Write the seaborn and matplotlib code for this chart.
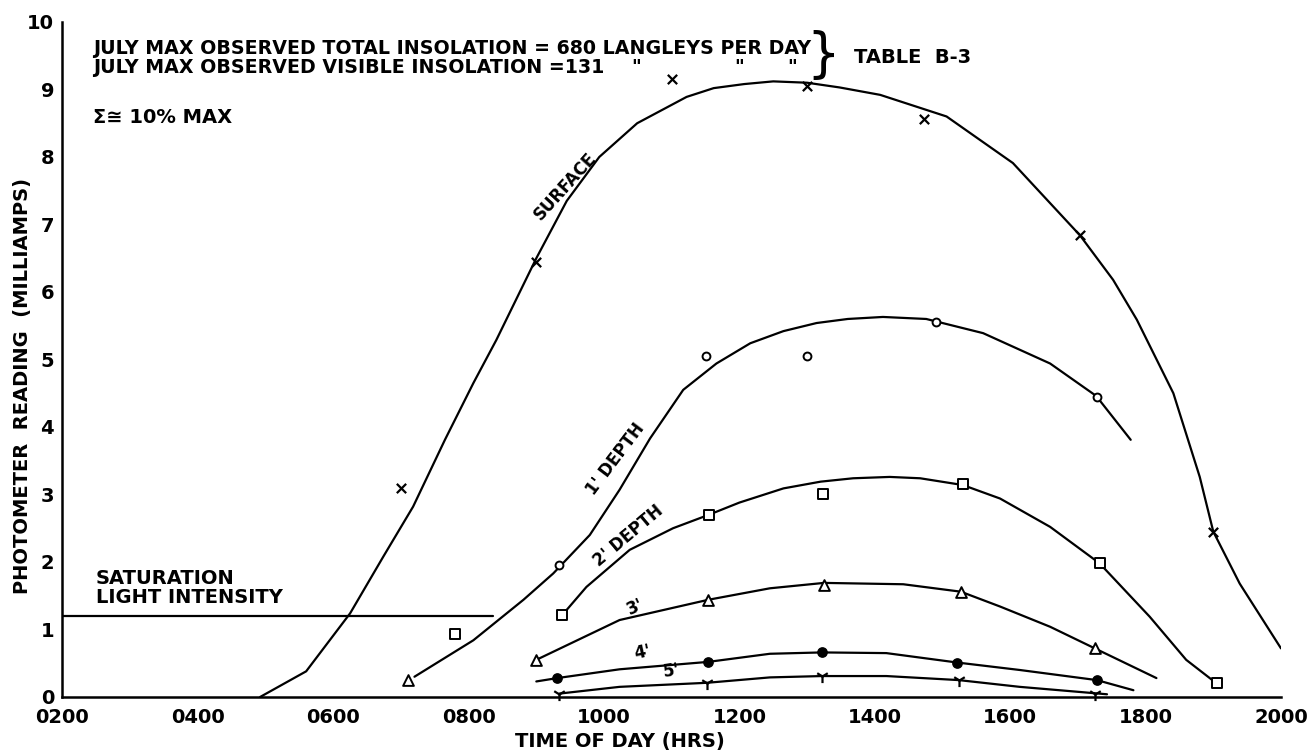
import matplotlib
matplotlib.use("Agg")
import matplotlib.pyplot as plt
import seaborn as sns

sns.set_theme(style="white")
plt.rcParams['font.family'] = ['DejaVu Sans']
plt.rcParams['font.weight'] = 'bold'
plt.rcParams['text.color'] = 'black'
plt.rcParams['axes.labelcolor'] = 'black'
plt.rcParams['axes.labelweight'] = 'bold'

# --- dados (hora decimal, miliamperes) ---
# superficie
surf_hr = [7.0, 9.0, 11.0, 13.0, 14.72, 17.03, 19.0]
surf_val = [3.1, 6.45, 9.15, 9.05, 8.56, 6.84, 2.45]
surf_curve_hr = [4.92, 5.6, 6.25, 6.74, 7.18, 7.65, 8.07, 8.41, 9.0, 9.45, 9.93, 10.49, 11.22, 11.62,
                 12.07, 12.5, 13.0, 13.48, 14.08, 15.06, 16.04, 17.03, 17.52, 17.87, 18.41, 18.8,
                 19.0, 19.39, 20.0]
surf_curve_val = [0.0, 0.38, 1.24, 2.08, 2.82, 3.81, 4.65, 5.29, 6.5, 7.35, 8.0, 8.5, 8.89, 9.02,
                  9.08, 9.12, 9.1, 9.03, 8.92, 8.6, 7.91, 6.84, 6.18, 5.59, 4.5, 3.26,
                  2.45, 1.68, 0.72]

# 1' de profundidade
d1_hr = [9.33, 11.5, 13.0, 14.9, 17.28]
d1_val = [1.95, 5.05, 5.05, 5.55, 4.45]
d1_curve_hr = [7.2, 8.07, 8.81, 9.25, 9.79, 10.23, 10.68, 11.17, 11.66, 12.16, 12.65, 13.14, 13.6,
               14.12, 14.76, 15.6, 16.59, 17.27, 17.78]
d1_curve_val = [0.3, 0.84, 1.44, 1.83, 2.4, 3.07, 3.83, 4.55, 4.94, 5.24, 5.42, 5.54, 5.6,
                5.63, 5.6, 5.39, 4.94, 4.46, 3.81]

# 2' de profundidade
d2_hr = [7.8, 9.38, 11.55, 13.24, 15.3, 17.32, 19.05]
d2_val = [0.94, 1.21, 2.70, 3.0, 3.15, 1.98, 0.2]
d2_curve_hr = [9.38, 9.74, 10.38, 11.02, 11.55, 12.0, 12.65, 13.2, 13.68, 14.22, 14.67, 15.3,
               15.85, 16.59, 17.32, 18.06, 18.6, 19.05]
d2_curve_val = [1.21, 1.63, 2.18, 2.5, 2.70, 2.88, 3.09, 3.19, 3.24, 3.26, 3.24, 3.14,
                2.94, 2.52, 1.98, 1.19, 0.55, 0.2]

# 3' de profundidade
d3_hr = [7.1, 9.0, 11.54, 13.25, 15.27, 17.25]
d3_val = [0.25, 0.55, 1.44, 1.66, 1.56, 0.72]
d3_curve_hr = [9.0, 10.23, 11.54, 12.45, 13.25, 14.42, 15.27, 15.85, 16.59, 17.25, 18.16]
d3_curve_val = [0.55, 1.14, 1.44, 1.61, 1.69, 1.67, 1.56, 1.34, 1.04, 0.72, 0.28]

# 4' de profundidade
d4_hr = [9.31, 11.54, 13.22, 15.22, 17.28]
d4_val = [0.28, 0.52, 0.66, 0.51, 0.25]
d4_curve_hr = [9.0, 9.31, 10.23, 11.54, 12.45, 13.22, 14.17, 15.22, 16.14, 17.28, 17.82]
d4_curve_val = [0.23, 0.28, 0.41, 0.52, 0.64, 0.66, 0.65, 0.51, 0.4, 0.25, 0.1]

# 5' de profundidade
d5_hr = [9.34, 11.52, 13.22, 15.24, 17.25]
d5_val = [0.05, 0.21, 0.31, 0.25, 0.05]
d5_curve_hr = [9.34, 10.23, 11.52, 12.45, 13.22, 14.17, 15.24, 16.14, 17.43]
d5_curve_val = [0.05, 0.15, 0.21, 0.29, 0.31, 0.31, 0.25, 0.15, 0.04]

saturacao = 1.2
saturacao_fim = 8.36

time_ticks = [2, 4, 6, 8, 10, 12, 14, 16, 18, 20]
time_labels = ["0200", "0400", "0600", "0800", "1000", "1200", "1400", "1600", "1800", "2000"]
y_ticks = [0, 1, 2, 3, 4, 5, 6, 7, 8, 9, 10]

#%% Grafico
fig = plt.figure(figsize=(13.09, 7.5), dpi=100)
ax = fig.add_axes([0.0477, 0.0707, 0.9309, 0.9])

lw = 1.6
for cx, cy in [(surf_curve_hr, surf_curve_val), (d1_curve_hr, d1_curve_val),
               (d2_curve_hr, d2_curve_val), (d3_curve_hr, d3_curve_val),
               (d4_curve_hr, d4_curve_val), (d5_curve_hr, d5_curve_val)]:
    sns.lineplot(x=cx, y=cy, sort=False, estimator=None, color='black', linewidth=lw, ax=ax)

# linha de saturacao
sns.lineplot(x=[2, saturacao_fim], y=[saturacao, saturacao], color='black', linewidth=lw, ax=ax)

# marcadores
sns.scatterplot(x=surf_hr, y=surf_val, marker='x', s=45, color='black', linewidth=1.6, zorder=5, ax=ax)
sns.scatterplot(x=d1_hr, y=d1_val, marker='o', s=32, facecolor='white', edgecolor='black',
                linewidth=1.4, zorder=5, ax=ax)
sns.scatterplot(x=d2_hr, y=d2_val, marker='s', s=55, facecolor='white', edgecolor='black',
                linewidth=1.4, zorder=5, ax=ax)
sns.scatterplot(x=d3_hr, y=d3_val, marker='^', s=60, facecolor='white', edgecolor='black',
                linewidth=1.4, zorder=5, ax=ax)
sns.scatterplot(x=d4_hr, y=d4_val, marker='o', s=45, facecolor='black', edgecolor='black',
                linewidth=1, zorder=5, ax=ax)
sns.scatterplot(x=d5_hr, y=d5_val, marker='1', s=90, color='black', linewidth=1.6, zorder=5,
                ax=ax, clip_on=False)

# rotulos das curvas
ax.text(9.42, 7.56, 'SURFACE', rotation=48, fontsize=12, ha='center', va='center')
ax.text(10.17, 3.53, "1' DEPTH", rotation=53, fontsize=12, ha='center', va='center')
ax.text(10.36, 2.38, "2' DEPTH", rotation=40, fontsize=12, ha='center', va='center')
ax.text(10.46, 1.33, "3'", rotation=25, fontsize=12, ha='center', va='center')
ax.text(10.56, 0.66, "4'", rotation=12, fontsize=12, ha='center', va='center')
ax.text(11.0, 0.38, "5'", rotation=8, fontsize=12, ha='center', va='center')

ax.text(2.49, 1.76, 'SATURATION', fontsize=14, va='center')
ax.text(2.49, 1.48, 'LIGHT INTENSITY', fontsize=14, va='center')

# cabecalho
ax.text(2.45, 9.6, 'JULY MAX OBSERVED TOTAL INSOLATION = 680 LANGLEYS PER DAY', fontsize=13.7, va='center')
ax.text(2.45, 9.33, 'JULY MAX OBSERVED VISIBLE INSOLATION =131', fontsize=13.7, va='center')
for xq in [10.48, 12.0, 12.78]:
    ax.text(xq, 9.33, '"', fontsize=13.7, va='center', ha='center')
ax.text(13.24, 9.5, '}', fontsize=38, va='center', ha='center', fontweight='normal')
ax.text(13.69, 9.47, 'TABLE  B-3', fontsize=14, va='center')
ax.text(2.45, 8.58, 'Σ≅ 10% MAX', fontsize=14, va='center')

# eixos
ax.set_xlim(2, 20)
ax.set_ylim(0, 10)
ax.set_xticks(time_ticks)
ax.set_xticklabels(time_labels)
ax.set_yticks(y_ticks)
ax.tick_params(axis='both', direction='in', length=7, width=1.5, labelsize=14, colors='black')
ax.tick_params(axis='x', pad=8)
ax.tick_params(axis='y', pad=6)
for s in ['top', 'right']:
    ax.spines[s].set_visible(False)
for s in ['left', 'bottom']:
    ax.spines[s].set_linewidth(1.8)
    ax.spines[s].set_color('black')

ax.set_xlabel('TIME OF DAY (HRS)', fontsize=14)
ax.xaxis.set_label_coords(0.4575, -0.066)
ax.xaxis.label.set_va('center')
ax.set_ylabel('PHOTOMETER  READING  (MILLIAMPS)', fontsize=14)
ax.yaxis.set_label_coords(-0.033, 0.46)
ax.yaxis.label.set_va('center')

plt.savefig('out.png', dpi=100)
